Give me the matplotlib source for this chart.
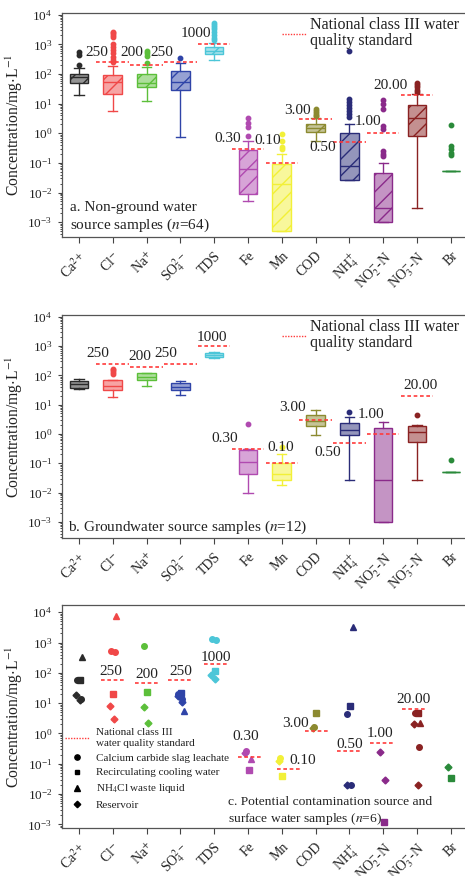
import numpy as np
import matplotlib.pyplot as plt
from matplotlib.lines import Line2D
from matplotlib.colors import to_rgba
from matplotlib.ticker import LogLocator, NullFormatter

plt.rcParams['font.family'] = ['Liberation Serif', 'DejaVu Serif']
plt.rcParams['mathtext.fontset'] = 'stix'

# ---- categories ----
names = ['Ca$^{2+}$', 'Cl$^{-}$', 'Na$^{+}$', 'SO$_4^{2-}$', 'TDS', 'Fe', 'Mn', 'COD',
         'NH$_4^{+}$', 'NO$_2^{-}$-N', 'NO$_3^{-}$-N', 'Br']
colors = ['#2b2b2b', '#f04848', '#5cbf3a', '#2f44a8', '#4cc6d8', '#b04ab0', '#f2f038',
          '#8c8a30', '#2a2c78', '#8a2a8a', '#8a2222', '#2a8a3a']

# national class III standard (index, value, label)
std_idx = [1, 2, 3, 4, 5, 6, 7, 8, 9, 10]
std_val = [250, 200, 250, 1000, 0.30, 0.10, 3.00, 0.50, 1.00, 20.00]
std_txt = ['250', '200', '250', '1000', '0.30', '0.10', '3.00', '0.50', '1.00', '20.00']

# ---- a. non-ground water source samples (n=64) ----
a_whislo = [20, 5.8, 12, 0.75, 290, 0.0052, 0.0005, 0.55, 0.026, 0.001, 0.003, 0.055]
a_q1 = [50, 22, 36, 30, 490, 0.009, 0.0005, 1.1, 0.026, 0.001, 0.8, 0.055]
a_med = [78, 52, 50, 55, 620, 0.06, 0.02, 1.55, 0.08, 0.003, 3.3, 0.055]
a_q3 = [100, 95, 98, 122, 800, 0.27, 0.09, 2.0, 1.05, 0.047, 9.3, 0.055]
a_whishi = [165, 180, 170, 240, 1150, 0.55, 0.2, 3.4, 2.1, 0.1, 21, 0.055]
a_fliers = [
    [200, 430, 540],
    [260, 300, 380, 500, 650, 800, 1000, 1800, 2100, 2400, 2700],
    [230, 420, 500, 580],
    [360],
    [1400, 1700, 2100, 2600, 3200, 3800, 4500, 5300],
    [0.8, 1.6, 2.3, 3.4],
    [0.3, 0.35, 0.55, 0.95],
    [3.8, 4.3, 5.0, 5.8, 6.6],
    [3.5, 4.5, 5.5, 7, 9, 11, 14, 610],
    [0.17, 0.2, 0.25, 1.4, 1.7, 6.5, 9.5, 13],
    [25, 30, 36, 42, 48],
    [0.19, 0.22, 0.29, 0.36, 1.95],
]

# ---- b. groundwater source samples (n=12) ----
b_whislo = [33, 18, 42, 21, 400, 0.01, 0.018, 0.93, 0.026, 0.001, 0.026, 0.049]
b_q1 = [38, 32, 71, 32, 430, 0.043, 0.026, 1.8, 0.9, 0.001, 0.52, 0.049]
b_med = [49, 43, 90, 40, 510, 0.107, 0.043, 2.8, 1.4, 0.026, 1.15, 0.049]
b_q3 = [64, 68, 118, 55, 600, 0.29, 0.10, 4.3, 2.3, 1.6, 1.8, 0.049]
b_whishi = [78, 71, 125, 64, 610, 0.3, 0.2, 6.7, 3.8, 2.5, 2.05, 0.049]
b_fliers = [[], [110, 130, 150, 170], [], [], [], [2.2], [0.36], [], [5.6], [], [4.6], [0.13]]

# ---- c. potential contamination source and surface water samples (n=6) ----
nan = np.nan
slag_1 = [60, 520, 780, 20, 1300, 0.27, 0.15, 1.66, 4.4, nan, 4.9, nan]
slag_2 = [14, 480, nan, 14, 1250, nan, nan, nan, 0.02, nan, 0.37, nan]
cooling = [56, 20, 23, 22, 118, 0.063, 0.04, 4.6, 8.1, 0.0012, 4.9, 0.035]
nh4cl = [325, 7500, nan, 5.5, nan, 0.14, nan, nan, 3300, nan, 2.3, nan]
reservoir_1 = [19, 8, 7.6, 17, 85, 0.23, 0.12, 1.55, 0.02, 0.25, 2.0, 0.076]
reservoir_2 = [13, 3, 2.3, 11, 62, nan, nan, nan, nan, 0.03, 0.02, nan]
# standard lines as they sit in panel c
c_std_pos = [59, 48, 59, 195, 0.17, 0.066, 1.23, 0.26, 0.48, 6.4]

pos = np.arange(1, 13)

# label placement (category offset, vertical offset px)
a_lab_dx = [-0.47, -0.44, -0.56, -0.53, -0.6, -0.41, -0.53, -0.8, -0.44, -0.77]
a_lab_dy = [-10, -13, -10, -11, -10, -22, -9, 5, -12, -9]
b_lab_dx = [-0.44, -0.2, -0.44, -0.07, -0.68, -0.03, -0.67, -0.64, -0.36, 0.1]
b_lab_dy = [-10, -10, -10, -9, -11, -16, -12, 10, -19, -10]
c_lab_dx = [-0.06, 0.0, 0.0, 0.06, -0.06, 0.62, -0.6, 0.0, -0.1, -0.1]
c_lab_dy = [-8, -8, -8, -7, -20, -9, -7, -7, -10, -10]

W, H = 465, 876
fig = plt.figure(figsize=(W / 100, H / 100), dpi=100)
ax_a = fig.add_axes([62 / W, 1 - 237 / H, 403 / W, 224 / H])
ax_b = fig.add_axes([62 / W, 1 - 538 / H, 403 / W, 223 / H])
ax_c = fig.add_axes([62 / W, 1 - 828 / H, 403 / W, 223 / H])

red = '#ff3b3b'
txt_col = '#222222'


def style_axis(ax, ylim):
    ax.set_yscale('log')
    ax.set_ylim(*ylim)
    ax.set_xlim(0.5, 12.42)
    ax.set_xticks(pos)
    ax.set_xticklabels(names, rotation=45, ha='right', rotation_mode='anchor', fontsize=10)
    ax.set_yticks([1e-3, 1e-2, 1e-1, 1, 10, 100, 1e3, 1e4])
    ax.yaxis.set_minor_locator(LogLocator(base=10, subs=np.arange(2, 10), numticks=20))
    ax.yaxis.set_minor_formatter(NullFormatter())
    ax.tick_params(axis='y', labelsize=9.5, length=3, width=0.8, pad=4, colors='#444444')
    ax.tick_params(axis='y', which='minor', length=1.8, width=0.5)
    ax.tick_params(axis='x', length=4, width=0.8, pad=5, colors='#444444')
    for lab in ax.get_xticklabels() + ax.get_yticklabels():
        lab.set_color(txt_col)
    ax.spines['right'].set_visible(False)
    for s in ['left', 'bottom', 'top']:
        ax.spines[s].set_color('#555555')
        ax.spines[s].set_linewidth(0.9)
    ax.set_ylabel('Concentration/mg$\\cdot$L$^{-1}$', fontsize=11.3, color=txt_col)
    ax.yaxis.set_label_coords(-0.093, 0.5)


def draw_boxes(ax, whislo, q1, med, q3, whishi, fliers, hatch):
    stats = []
    for i in range(12):
        stats.append(dict(whislo=whislo[i], q1=q1[i], med=med[i], q3=q3[i],
                          whishi=whishi[i], fliers=fliers[i]))
    bp = ax.bxp(stats, positions=pos, widths=0.55, patch_artist=True, showfliers=True,
                manage_ticks=False)
    for i in range(12):
        c = colors[i]
        box = bp['boxes'][i]
        box.set_facecolor(to_rgba(c, 0.5))
        box.set_edgecolor(c)
        box.set_linewidth(1.0)
        if hatch:
            box.set_hatch(hatch)
        bp['medians'][i].set_color(c)
        bp['medians'][i].set_linewidth(1.0)
        for k in (2 * i, 2 * i + 1):
            bp['whiskers'][k].set_color(c)
            bp['caps'][k].set_color(c)
        fl = bp['fliers'][i]
        fl.set_marker('o')
        fl.set_markersize(3.2)
        fl.set_markerfacecolor(c)
        fl.set_markeredgecolor(c)


def draw_std(ax, yvals, dxs, dys, half=0.48, shift=None):
    for j, i in enumerate(std_idx):
        x0 = pos[i]
        sh = 0 if shift is None else shift[j]
        ax.plot([x0 - half + sh, x0 + half + sh], [yvals[j], yvals[j]], color=red,
                ls=(0, (2.2, 1.6)), lw=1.2, zorder=4)
        ax.annotate(std_txt[j], xy=(x0 + dxs[j], yvals[j]), xytext=(0, -dys[j] * 0.72),
                    textcoords='offset points', ha='center', va='center', fontsize=11,
                    color=txt_col, zorder=5)


std_handle = Line2D([], [], color=red, ls=(0, (1, 1)), lw=1.0)


def std_legend(ax):
    leg = ax.legend([std_handle], ['National class III water\nquality standard'],
                    loc='upper right', bbox_to_anchor=(1.02, 1.045), frameon=False,
                    fontsize=11.5, handlelength=1.55, handletextpad=0.2)
    for t in leg.get_texts():
        t.set_linespacing(1.0)
        t.set_color(txt_col)


# panel a
style_axis(ax_a, (10 ** -3.5, 10 ** 4.06))
draw_boxes(ax_a, a_whislo, a_q1, a_med, a_q3, a_whishi, a_fliers, '//')
draw_std(ax_a, std_val, a_lab_dx, a_lab_dy)
ax_a.text(0.02, 0.015, 'a. Non-ground water\nsource samples ($n$=64)', transform=ax_a.transAxes,
          fontsize=11, ha='left', va='bottom', linespacing=1.2, color=txt_col)
std_legend(ax_a)

# panel b
style_axis(ax_b, (10 ** -3.55, 10 ** 4.06))
draw_boxes(ax_b, b_whislo, b_q1, b_med, b_q3, b_whishi, b_fliers, None)
draw_std(ax_b, std_val, b_lab_dx, b_lab_dy)
ax_b.text(0.015, 0.008, 'b. Groundwater source samples ($n$=12)', transform=ax_b.transAxes,
          fontsize=11, ha='left', va='bottom', color=txt_col)
std_legend(ax_b)

# panel c
style_axis(ax_c, (10 ** -3.12, 10 ** 4.24))
samples = [(slag_1, 'o', -0.06), (slag_2, 'o', 0.06), (cooling, 's', 0.02),
           (nh4cl, '^', 0.1), (reservoir_1, 'D', -0.08), (reservoir_2, 'D', 0.04)]
for vals, mk, dx in samples:
    for i in range(12):
        if not np.isnan(vals[i]):
            ax_c.plot(pos[i] + dx, vals[i], marker=mk, ms=4.0 if mk != 'D' else 3.5,
                      color=colors[i], mec=colors[i], ls='none', zorder=3)
c_shift = [0, 0, 0, 0.05, 0.05, 0.2, 0.05, -0.02, -0.04, -0.08]
draw_std(ax_c, c_std_pos, c_lab_dx, c_lab_dy, half=0.35, shift=c_shift)
ax_c.text(0.412, 0.005, 'c. Potential contamination source and\nsurface water samples ($n$=6)',
          transform=ax_c.transAxes, fontsize=9.7, ha='left', va='bottom', linespacing=1.25,
          color=txt_col)
handles = [std_handle,
           Line2D([], [], marker='o', color='k', ls='none', ms=3.8),
           Line2D([], [], marker='s', color='k', ls='none', ms=3.5),
           Line2D([], [], marker='^', color='k', ls='none', ms=3.8),
           Line2D([], [], marker='D', color='k', ls='none', ms=3.3)]
labels = ['National class III\nwater quality standard', 'Calcium carbide slag leachate',
          'Recirculating cooling water', 'NH$_4$Cl waste liquid', 'Reservoir']
leg = ax_c.legend(handles, labels, loc='lower left', bbox_to_anchor=(-0.01, 0.05),
                  frameon=False, handlelength=2.2, handletextpad=0.6, labelspacing=0.45,
                  borderaxespad=0.2, prop={'size': 8})
for t in leg.get_texts():
    t.set_color(txt_col)

fig.savefig('out.png', dpi=100)
